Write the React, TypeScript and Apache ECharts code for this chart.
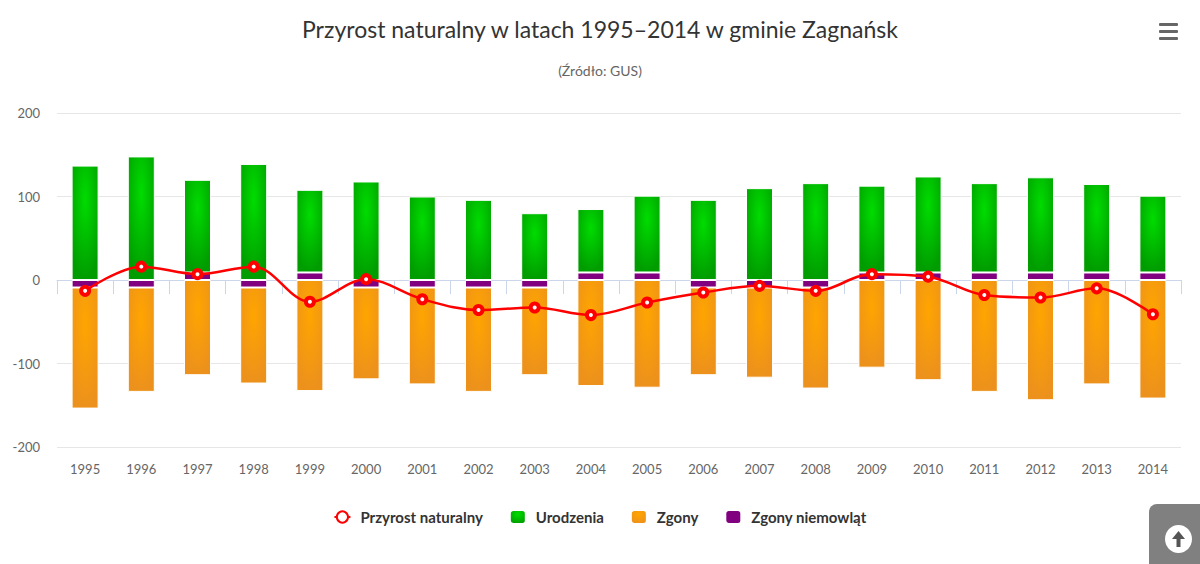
import React, { useEffect, useRef } from 'react';
import * as echarts from 'echarts';

const years = ['1995', '1996', '1997', '1998', '1999', '2000', '2001', '2002', '2003', '2004', '2005', '2006', '2007', '2008', '2009', '2010', '2011', '2012', '2013', '2014'];
// stack top (births) and stack bottom (deaths)
const births = [137, 148, 120, 139, 108, 118, 100, 96, 80, 85, 101, 96, 110, 116, 113, 124, 116, 123, 115, 101];
const deaths = [-154, -134, -114, -124, -133, -119, -125, -134, -114, -127, -129, -114, -117, -130, -105, -120, -134, -144, -125, -142];
// small purple segment next to zero (sign as drawn)
const infantDeaths = [-9, -9, 9, -9, 9, -9, -9, -9, -9, 9, 9, -9, -9, -9, 9, 9, 9, 9, 9, 9];
const naturalGrowth = [-13, 16, 7, 16, -26, 1, -23, -36, -33, -42, -27, -15, -7, -13, 7, 4, -18, -21, -10, -41];
const yMin = -200;
const yMax = 200;
const yStep = 100;

const FONT = 'Lato, "Noto Sans", sans-serif';

export default function App() {
  const ref = useRef<HTMLDivElement>(null);
  useEffect(() => {
    if (!ref.current) return;
    const chart = echarts.init(ref.current, undefined, { renderer: 'svg' });
    const greenSeg = births.map((b, i) => b - Math.max(infantDeaths[i], 0));
    const orangeSeg = deaths.map((d, i) => d - Math.min(infantDeaths[i], 0));
    const greenGrad = {
      type: 'radial', x: 0.5, y: 0.3, r: 0.7,
      colorStops: [{ offset: 0, color: '#00dc00' }, { offset: 1, color: '#009c00' }],
    };
    const orangeGrad = {
      type: 'radial', x: 0.5, y: 0.3, r: 0.7,
      colorStops: [{ offset: 0, color: '#ffa500' }, { offset: 1, color: '#ec911c' }],
    };
    const option: any = {
      animation: false,
      backgroundColor: '#ffffff',
      title: [
        {
          text: 'Przyrost naturalny w latach 1995–2014 w gminie Zagnańsk',
          left: 'center', top: 15, padding: 0,
          textStyle: { fontFamily: FONT, fontSize: 23, fontWeight: 'normal', color: '#333333', lineHeight: 28 },
        },
        {
          text: '(Źródło: GUS)',
          left: 'center', top: 61, padding: 0,
          textStyle: { fontFamily: FONT, fontSize: 14, fontWeight: 'normal', color: '#666666', lineHeight: 18 },
        },
      ],
      legend: {
        data: ['Przyrost naturalny', 'Urodzenia', 'Zgony', 'Zgony niemowląt'],
        left: 'center', top: 504, itemGap: 26, itemWidth: 16, itemHeight: 14,
        textStyle: { fontFamily: FONT, fontSize: 15, fontWeight: 'bold', color: '#333333', padding: [0, 0, 0, 5] },
      },
      grid: { left: 57, right: 19, top: 113, bottom: 117 },
      xAxis: {
        type: 'category', data: years, boundaryGap: true,
        axisLine: { lineStyle: { color: '#ccd6eb', width: 1 } },
        axisTick: { show: true, length: 14, lineStyle: { color: '#ccd6eb' } },
        axisLabel: { fontFamily: FONT, fontSize: 13, color: '#666666', margin: 15 },
      },
      yAxis: {
        type: 'value', min: yMin, max: yMax, interval: yStep,
        axisLine: { show: false }, axisTick: { show: false },
        splitLine: { lineStyle: { color: '#e6e6e6', width: 1 } },
        axisLabel: { fontFamily: FONT, fontSize: 13, color: '#666666', margin: 17 },
      },
      series: [
        {
          name: 'Zgony niemowląt', type: 'bar', stack: 'all', data: infantDeaths, barWidth: 27,
          itemStyle: { color: '#800080', borderColor: '#ffffff', borderWidth: 1 },
        },
        {
          name: 'Urodzenia', type: 'bar', stack: 'all', data: greenSeg, barWidth: 27,
          itemStyle: { color: greenGrad, borderColor: '#ffffff', borderWidth: 1 },
        },
        {
          name: 'Zgony', type: 'bar', stack: 'all', data: orangeSeg, barWidth: 27,
          itemStyle: { color: orangeGrad, borderColor: '#ffffff', borderWidth: 1 },
        },
        {
          name: 'Przyrost naturalny', type: 'line', data: naturalGrowth, smooth: 0.35, z: 5,
          symbol: 'circle', symbolSize: 8, showSymbol: true,
          lineStyle: { color: '#ff0000', width: 2.5 },
          itemStyle: { color: '#ffffff', borderColor: '#ff0000', borderWidth: 4 },
        },
      ],
      graphic: [
        { type: 'rect', shape: { x: 1159, y: 23, width: 19, height: 3, r: 1 }, style: { fill: '#666666' } },
        { type: 'rect', shape: { x: 1159, y: 30, width: 19, height: 3, r: 1 }, style: { fill: '#666666' } },
        { type: 'rect', shape: { x: 1159, y: 37, width: 19, height: 3, r: 1 }, style: { fill: '#666666' } },
        { type: 'rect', shape: { x: 1149, y: 504, width: 60, height: 70, r: 8 }, style: { fill: '#808080' } },
        { type: 'ellipse', shape: { cx: 1178.5, cy: 539, rx: 13.5, ry: 14 }, style: { fill: '#ffffff' } },
        { type: 'polygon', shape: { points: [[1178.5, 531], [1172, 539], [1185, 539]] }, style: { fill: '#555555' } },
        { type: 'rect', shape: { x: 1176.5, y: 538, width: 4, height: 9 }, style: { fill: '#555555' } },
      ],
    };
    chart.setOption(option);
    return () => chart.dispose();
  }, []);
  return <div ref={ref} style={{ position: 'fixed', left: 0, top: 0, width: 1200, height: 564 }} />;
}
